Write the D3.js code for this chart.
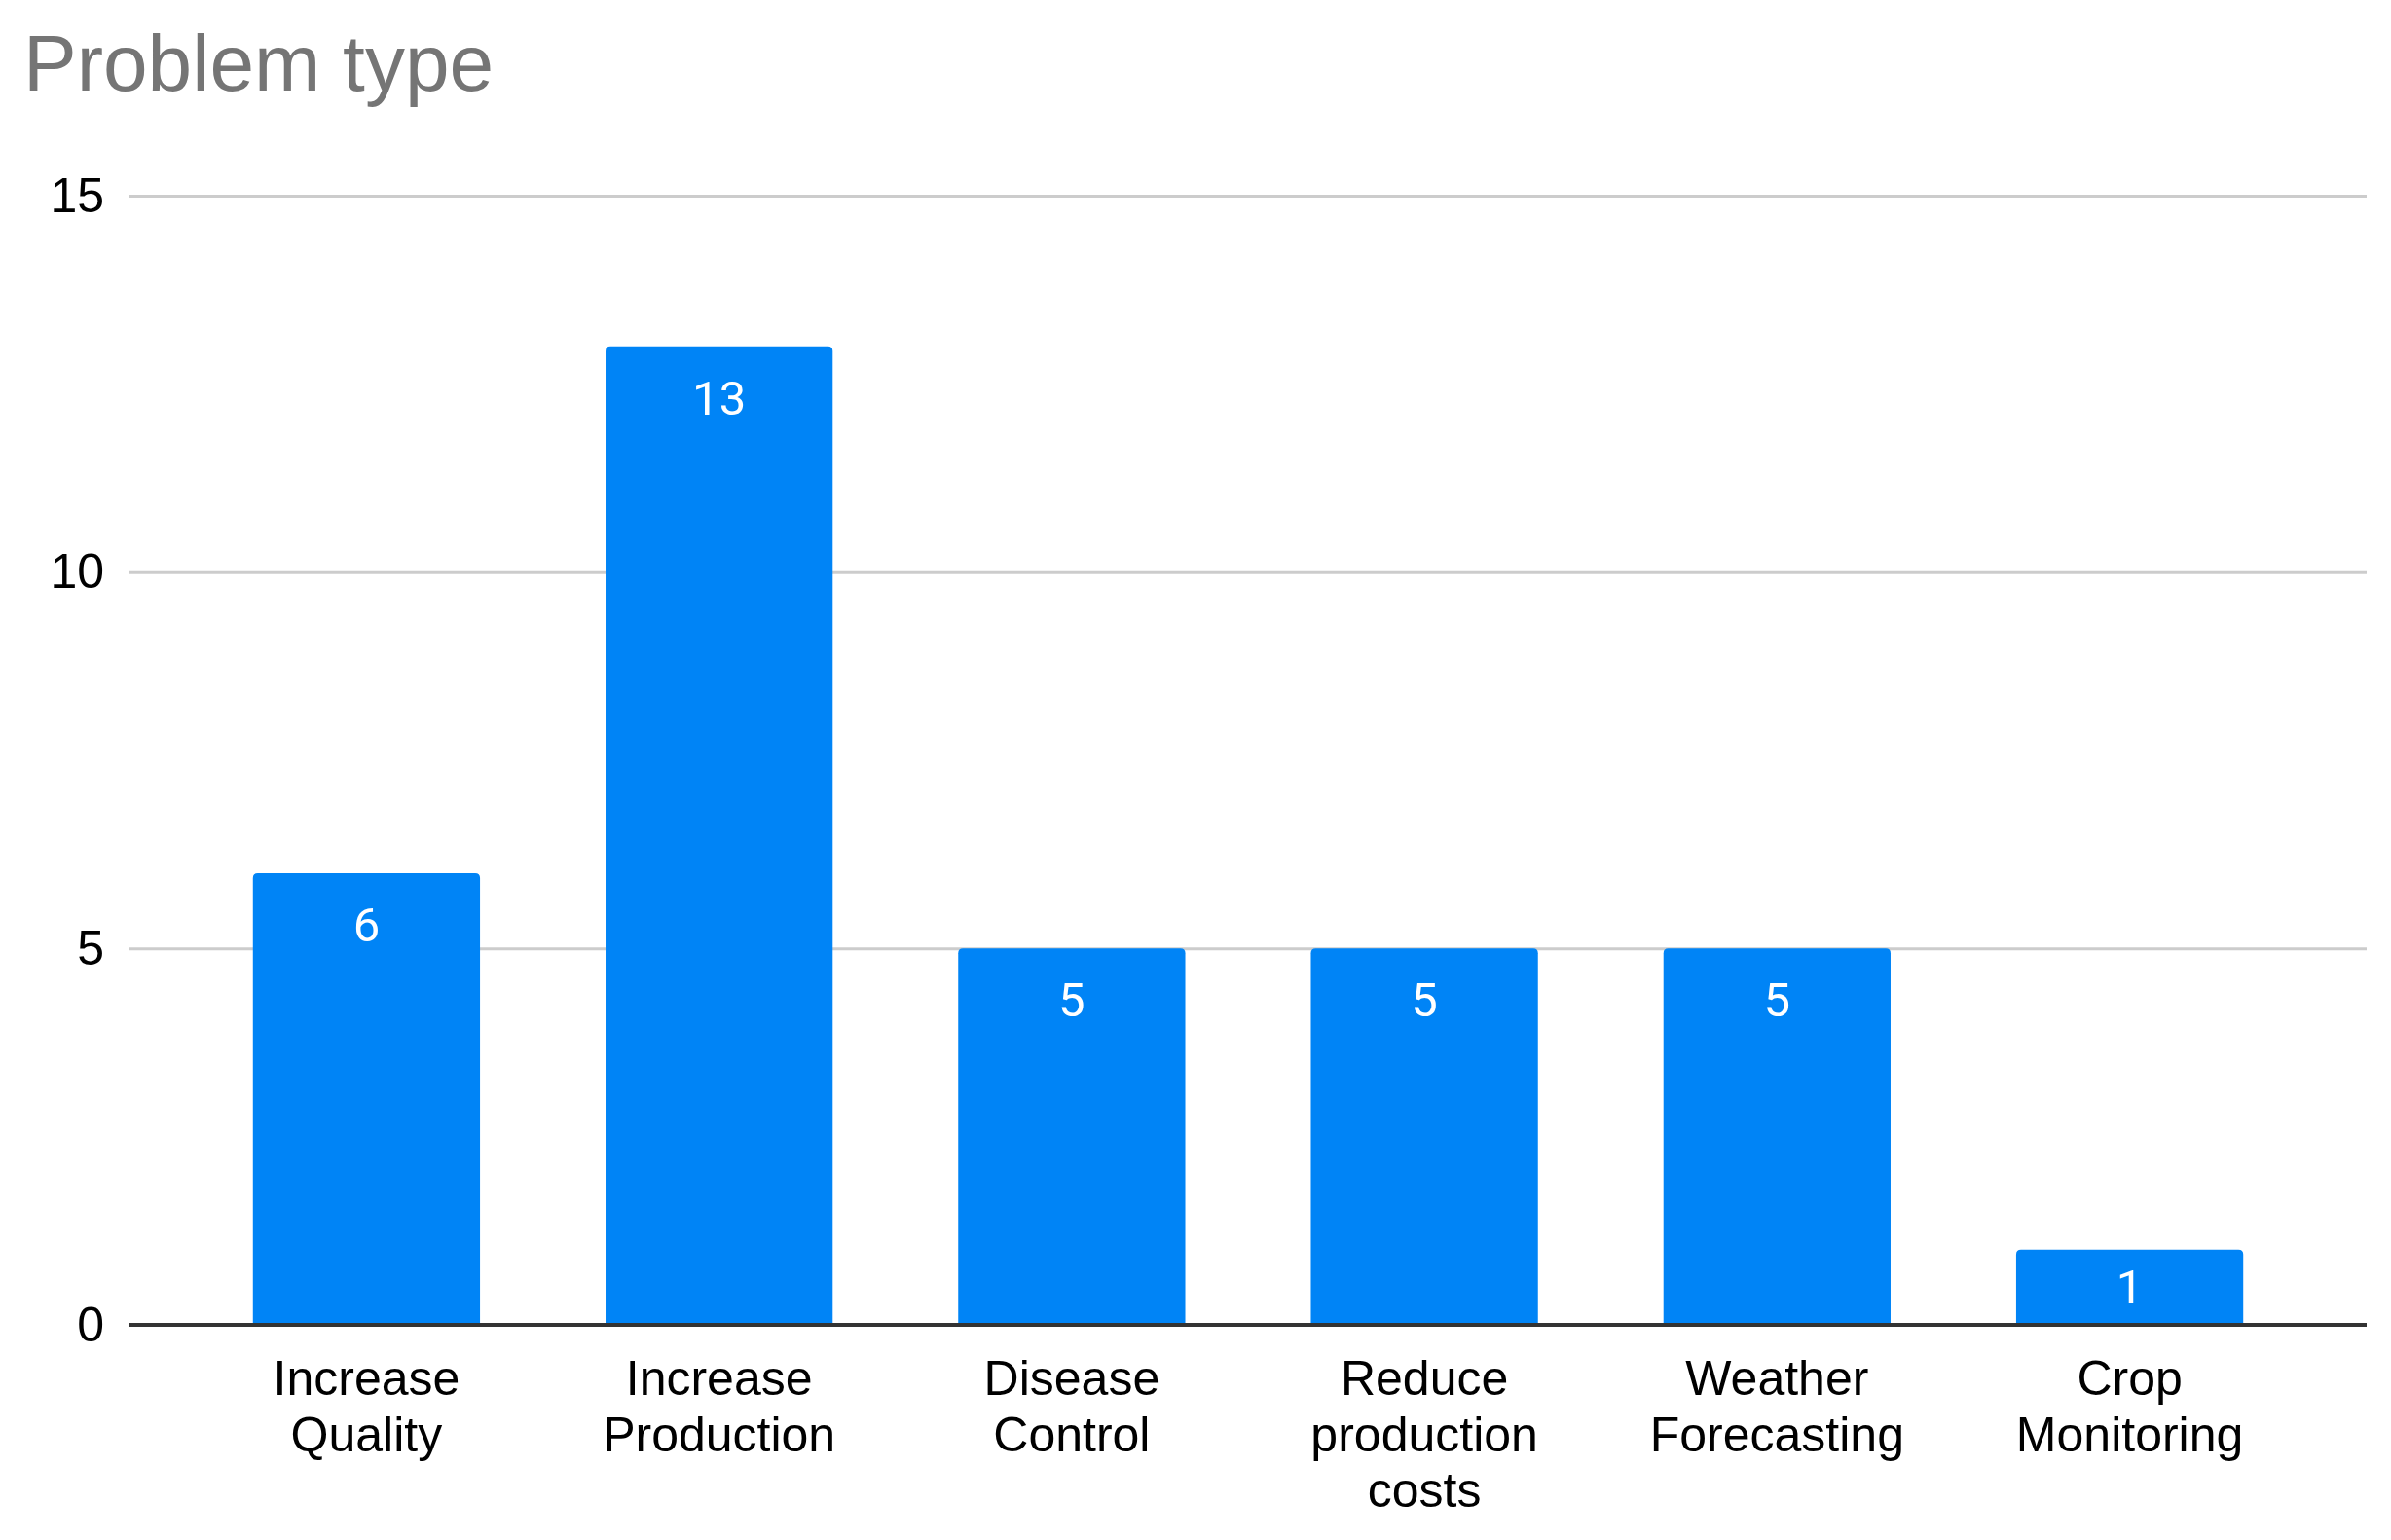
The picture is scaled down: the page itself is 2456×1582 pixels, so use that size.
<!DOCTYPE html>
<html>
<head>
<meta charset="utf-8">
<script src="https://cdn.jsdelivr.net/npm/d3@7"></script>
<style>
  html, body { margin: 0; padding: 0; background: #fff; }
  svg { display: block; }
</style>
</head>
<body>
<svg id="chart" width="2456" height="1582"></svg>
<script>
const title = "Problem type";
const categories = ["Increase Quality", "Increase Production", "Disease Control", "Reduce production costs", "Weather Forecasting", "Crop Monitoring"];
const values = [6, 13, 5, 5, 5, 1];
const yTicks = [0, 5, 10, 15];

const W = 2456, H = 1582;
const plot = { left: 133, right: 2431, top: 201, bottom: 1361 };
const barColor = "#0084f6";
const sans = "'Liberation Sans', Arial, Helvetica, sans-serif";

const svg = d3.select("#chart");
svg.append("rect").attr("width", W).attr("height", H).attr("fill", "#fff");

const x = d3.scaleBand().domain(categories).range([plot.left, plot.right])
  .paddingInner(0.356).paddingOuter(0.35);
const y = d3.scaleLinear().domain([0, 15]).range([plot.bottom, plot.top]);

// title
svg.append("text").attr("x", 24).attr("y", 93)
  .attr("font-family", sans).attr("font-size", 82).attr("fill", "#757575")
  .text(title);

// gridlines + y tick labels via axis
const yAxis = d3.axisLeft(y).tickValues(yTicks).tickSize(-(plot.right - plot.left)).tickPadding(26).tickFormat(d3.format("d"));
const gy = svg.append("g").attr("transform", `translate(${plot.left},0)`).call(yAxis);
gy.select(".domain").remove();
gy.selectAll(".tick line").attr("stroke", "#cccccc").attr("stroke-width", 3)
  .filter(d => d === 0).attr("stroke", "none");
gy.selectAll(".tick text").attr("font-family", sans).attr("font-size", 50).attr("fill", "#000");

// bars with rounded top corners
const r = 5;
function barPath(x0, w, yTop, yBot) {
  const rr = Math.min(r, (yBot - yTop));
  return `M${x0},${yBot}V${yTop + rr}Q${x0},${yTop} ${x0 + rr},${yTop}H${x0 + w - rr}Q${x0 + w},${yTop} ${x0 + w},${yTop + rr}V${yBot}Z`;
}
const data = categories.map((c, i) => ({ c, v: values[i] }));
svg.append("g").selectAll("path").data(data).join("path")
  .attr("d", d => barPath(x(d.c), x.bandwidth(), y(d.v), y(0)))
  .attr("fill", barColor);

// value labels
svg.append("g").selectAll("text").data(data).join("text")
  .attr("x", d => x(d.c) + x.bandwidth() / 2)
  .attr("y", d => Math.min(y(d.v) + 53, (y(d.v) + y(0)) / 2))
  .attr("dy", "0.35em")
  .attr("text-anchor", "middle")
  .attr("font-family", "Roboto, 'Liberation Sans', sans-serif")
  .attr("font-size", 49).attr("fill", "#fff")
  .text(d => d.v);

// baseline axis
const xAxis = d3.axisBottom(x).tickSize(0).tickPadding(0);
const gx = svg.append("g").attr("transform", `translate(0,${plot.bottom})`).call(xAxis);
gx.select(".domain").remove();
svg.append("line").attr("x1", plot.left).attr("x2", plot.right)
  .attr("y1", plot.bottom).attr("y2", plot.bottom)
  .attr("stroke", "#333333").attr("stroke-width", 4);

// wrapped category labels
const lineH = 57.5;
const maxW = x.step() * 0.8;
gx.selectAll(".tick text").each(function(d) {
  const t = d3.select(this);
  t.text(null).attr("font-family", sans).attr("font-size", 50).attr("fill", "#000")
    .attr("text-anchor", "middle").attr("dy", null).attr("y", 0);
  const words = d.split(/\s+/);
  let lines = [], cur = [];
  const probe = t.append("tspan");
  words.forEach(wd => {
    const test = cur.concat([wd]).join(" ");
    probe.text(test);
    if (cur.length && probe.node().getComputedTextLength() > maxW) {
      lines.push(cur.join(" ")); cur = [wd];
    } else cur.push(wd);
  });
  if (cur.length) lines.push(cur.join(" "));
  probe.remove();
  lines.forEach((ln, i) => {
    t.append("tspan").attr("x", 0).attr("y", 72 + i * lineH).text(ln);
  });
});
</script>
</body>
</html>
